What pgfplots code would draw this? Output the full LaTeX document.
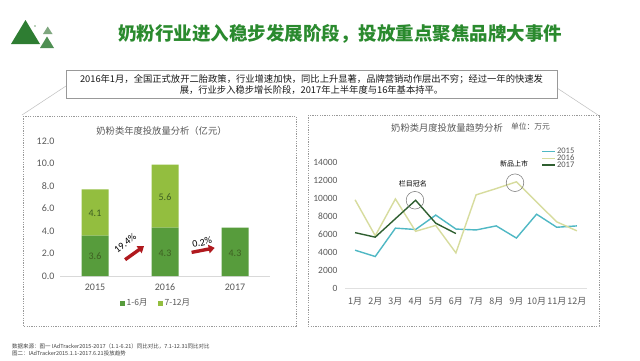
\documentclass[border=0pt]{standalone}
\usepackage{fontspec}
\setmainfont{Carlito}
\newfontfamily\cjk{Noto Sans CJK SC}
\usepackage{pgfplots}
\pgfplotsset{compat=1.18}
\usetikzlibrary{arrows.meta}
\definecolor{tgreen}{HTML}{2A8A2E}
\definecolor{logoA}{HTML}{2E7D32}
\definecolor{logoB}{HTML}{7FA77F}
\definecolor{logoC}{HTML}{4E8F52}
\definecolor{bardark}{HTML}{579C3C}
\definecolor{barlight}{HTML}{93BE3F}
\definecolor{labgreen}{HTML}{3E5F22}
\definecolor{txtgray}{HTML}{595959}
\definecolor{arrowred}{HTML}{B0191E}
\definecolor{c2015}{HTML}{4FB8C4}
\definecolor{c2016}{HTML}{D7DC9E}
\definecolor{c2017}{HTML}{2F5F30}
\pgfplotstableread{
m y2015 y2016
1 4200 9800
2 3500 5800
3 6650 9900
4 6500 6300
5 8100 6950
6 6550 3900
7 6450 10350
8 6900 11050
9 5550 11800
10 8200 9550
11 6750 7350
12 6900 6350
}\monthly
\pgfplotstableread{
m y2017
1 6150
2 5650
3 7700
4 9750
5 7200
6 6050
}\monthlyB
\begin{document}
\begin{tikzpicture}[x=1pt,y=1pt]
\fill[white] (0,0) rectangle (640,360);
% logo
\fill[logoA] (11,316) -- (40,316) -- (25.5,340) -- cycle;
\fill[logoB] (43,326) -- (52.5,326) -- (47.7,333.5) -- cycle;
\fill[logoC] (40,312) -- (54,312) -- (47,323.5) -- cycle;
\fill[logoB] (35,334) circle (0.8);
% title
\node[font=\cjk\bfseries\fontsize{18.5}{20}\selectfont, text=tgreen] at (340,326.5) {奶粉行业进入稳步发展阶段，投放重点聚焦品牌大事件};
% connector lines
\draw[black!25, line width=0.5pt] (66,274) -- (22,245);
\draw[black!25, line width=0.5pt] (557,272) -- (598,245);
% text box
\draw[black!40, fill=white, line width=0.5pt] (66,290) rectangle (557,262);
\node[font=\cjk\fontsize{9.3}{11.5}\selectfont, align=center, text=black!90] at (311.5,275.5) {2016年1月，全国正式放开二胎政策，行业增速加快，同比上升显著，品牌营销动作层出不穷；经过一年的快速发\\展，行业步入稳步增长阶段，2017年上半年度与16年基本持平。};
% panels
\draw[black!40, line width=0.4pt, dash pattern=on 1.2pt off 1.2pt] (23,244) rectangle (296,34);
\draw[black!40, line width=0.4pt, dash pattern=on 1.2pt off 1.2pt] (308,245) rectangle (599,34);
% panel titles
\node[font=\cjk\fontsize{9.3}{10}\selectfont, text=txtgray] at (161.5,229) {奶粉类年度投放量分析（亿元）};
\node[font=\cjk\fontsize{9.3}{10}\selectfont, text=txtgray] at (447,232) {奶粉类月度投放量趋势分析};
\node[font=\cjk\fontsize{7.8}{9}\selectfont, text=txtgray] at (530.5,233) {单位：万元};
% footer
\node[font=\cjk\fontsize{5.5}{6.5}\selectfont, text=black!75, anchor=west, inner sep=0pt] at (12,13.3) {数据来源：图一 IAdTracker2015-2017（1.1-6.21）同比对比，7.1-12.31同比对比};
\node[font=\cjk\fontsize{5.5}{6.5}\selectfont, text=black!75, anchor=west, inner sep=0pt] at (12,6.3) {图二：IAdTracker2015.1.1-2017.6.21投放趋势};

% left chart
\begin{axis}[at={(60pt,84pt)}, anchor=south west, scale only axis,
  width=210pt, height=135pt,
  xmin=-0.5, xmax=2.5, ymin=0, ymax=12,
  ybar stacked, bar width=27pt,
  xtick={0,1,2}, xticklabels={2015,2016,2017},
  ytick={0,2,4,6,8,10,12},
  /pgf/number format/assume math mode=true,
  yticklabel={\pgfmathprintnumber[fixed,fixed zerofill,precision=1]{\tick}},
  separate axis lines,
  axis x line*=bottom, axis y line*=left,
  x axis line style={draw=black!15,-},
  y axis line style={draw=none},
  tick style={draw=none},
  ticklabel style={font=\fontsize{10}{11}\selectfont, text=txtgray},
  yticklabel style={xshift=-2pt},
  xticklabel style={yshift=-4pt},
  legend image code/.code={\fill[#1] (0pt,-2.5pt) rectangle (5pt,2.5pt);},
  legend style={at={(0.457,-0.2)}, anchor=center, legend columns=2, draw=none, fill=none,
    font=\cjk\fontsize{8.5}{9}\selectfont, text=txtgray,
    /tikz/every even column/.append style={column sep=8pt}},
  clip=false]
\addplot[fill=bardark, draw=none] coordinates {(0,3.6) (1,4.3) (2,4.3)};
\addplot[fill=barlight, draw=none] coordinates {(0,4.1) (1,5.6) (2,0)};
\legend{1-6月, 7-12月}
\end{axis}
% overlay axis for labels and arrows
\begin{axis}[at={(60pt,84pt)}, anchor=south west, scale only axis,
  width=210pt, height=135pt,
  xmin=-0.5, xmax=2.5, ymin=0, ymax=12, hide axis, clip=false]
\node[font=\fontsize{10}{11}\selectfont, text=labgreen] at (axis cs:0,1.75) {3.6};
\node[font=\fontsize{10}{11}\selectfont, text=labgreen] at (axis cs:0,5.6) {4.1};
\node[font=\fontsize{10}{11}\selectfont, text=labgreen] at (axis cs:1,2.05) {4.3};
\node[font=\fontsize{10}{11}\selectfont, text=labgreen] at (axis cs:1,7.0) {5.6};
\node[font=\fontsize{10}{11}\selectfont, text=labgreen] at (axis cs:2,2.05) {4.3};
\draw[arrowred, line width=3.4pt, -{Triangle[length=6pt,width=8.5pt]}] (axis cs:0.43,1.45) -- (axis cs:0.70,2.65);
\node[font=\fontsize{10}{11}\selectfont, rotate=38] at (axis cs:0.43,2.9) {19.4\%};
\draw[arrowred, line width=3.4pt, -{Triangle[length=6pt,width=8.5pt]}] (axis cs:1.38,2.1) -- (axis cs:1.71,2.5);
\node[font=\fontsize{10}{11}\selectfont, rotate=12] at (axis cs:1.53,3.0) {0.2\%};
\end{axis}

% right chart
\begin{axis}[at={(345pt,72pt)}, anchor=south west, scale only axis,
  width=242pt, height=126pt,
  xmin=0.5, xmax=12.5, ymin=0, ymax=14000,
  xtick={1,...,12},
  xticklabels={1月,2月,3月,4月,5月,6月,7月,8月,9月,10月,11月,12月},
  ytick={0,2000,...,14000},
  scaled y ticks=false,
  /pgf/number format/assume math mode=true,
  yticklabel style={/pgf/number format/1000 sep={}, xshift=-4pt, font=\fontsize{9.5}{10}\selectfont, text=txtgray},
  xticklabel style={font=\cjk\fontsize{9}{10}\selectfont, text=txtgray, yshift=-6pt},
  separate axis lines,
  axis x line*=bottom, axis y line*=left,
  x axis line style={draw=black!12,-},
  y axis line style={draw=none},
  tick style={draw=none},
  legend image code/.code={\draw[#1] (0pt,0pt) -- (13pt,0pt);},
  legend style={at={(0.812,1.12)}, anchor=north west, draw=none, fill=none,
    font=\fontsize{8.5}{8.5}\selectfont, text=txtgray, row sep=-2.4pt,
    inner sep=0pt, nodes={inner sep=1pt}},
  legend cell align=left,
  clip=false]
\addplot[c2015, line width=1.4pt] table[x=m, y=y2015] {\monthly};
\addplot[c2016, line width=1.4pt] table[x=m, y=y2016] {\monthly};
\addplot[c2017, line width=1.4pt] table[x=m, y=y2017] {\monthlyB};
\legend{2015,2016,2017}
\draw[black!55, line width=0.5pt] (axis cs:3.97,9750) circle[radius=8.8pt];
\draw[black!55, line width=0.5pt] (axis cs:8.93,11700) circle[radius=8.8pt];
\node[font=\cjk\fontsize{7}{8}\selectfont] at (axis cs:3.87,11600) {栏目冠名};
\node[font=\cjk\fontsize{7}{8}\selectfont] at (axis cs:8.88,13800) {新品上市};
\end{axis}
\end{tikzpicture}
\end{document}
